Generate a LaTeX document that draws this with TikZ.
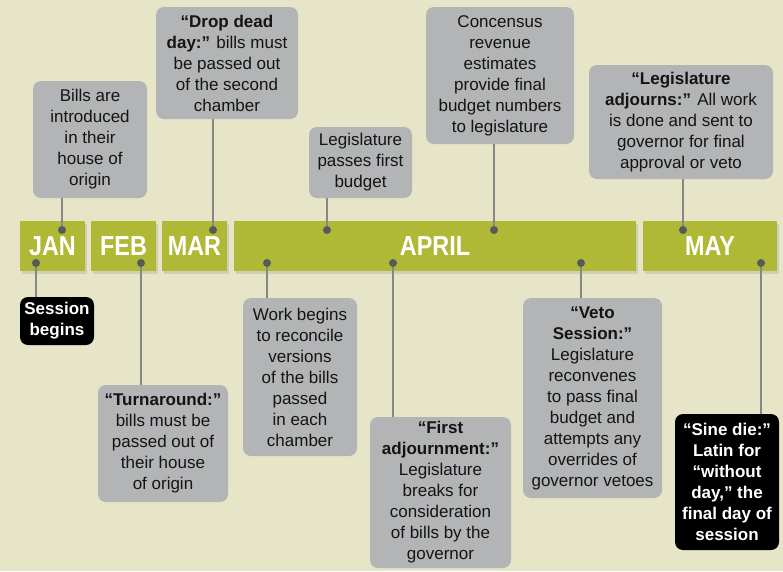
\documentclass[tikz,border=0pt]{standalone}
\usepackage{fontspec}
\setmainfont{Liberation Sans}
\newfontfamily\monthfont[FakeStretch=0.85]{Liberation Sans}
\usetikzlibrary{shadows}
\definecolor{bgc}{RGB}{230,229,200}
\definecolor{barc}{RGB}{175,185,53}
\definecolor{boxc}{RGB}{178,180,182}
\definecolor{dotc}{RGB}{88,89,91}
\definecolor{linec}{RGB}{135,135,135}
\definecolor{txtc}{RGB}{20,20,20}
\begin{document}
\begin{tikzpicture}[x=1pt,y=-1pt,
  bar/.style={fill=barc, draw=none, inner sep=0pt, text=white,
    font=\monthfont\bfseries\fontsize{27.5}{27.5}\selectfont,
    drop shadow={shadow xshift=2pt, shadow yshift=-3pt, opacity=0.22},
    minimum height=50pt},
  graybox/.style={fill=boxc, rounded corners=8pt, align=center, inner sep=0pt,
    text=txtc, font=\fontsize{17}{21}\selectfont},
  blackbox/.style={graybox, fill=black, text=white,
    font=\bfseries\fontsize{17}{21}\selectfont},
  dotmark/.style={circle, fill=dotc, minimum size=8pt, inner sep=0pt},
  conn/.style={draw=linec, line width=2pt}]
\fill[bgc] (0,0) rectangle (783,571);
\useasboundingbox (0,0) rectangle (783,571);

% month bars
\node[bar, minimum width=65pt]  (jan) at (52.5,246) {JAN};
\node[bar, minimum width=65pt]  (feb) at (123.5,246) {FEB};
\node[bar, minimum width=65pt]  (mar) at (194.5,246) {MAR};
\node[bar, minimum width=402pt] (apr) at (435,246) {APRIL};
\node[bar, minimum width=134pt] (may) at (710,246) {MAY};

% boxes above
\node[graybox, minimum width=114pt, minimum height=117pt] (b1) at (90,139.5)
  {Bills are\\introduced\\in their\\house of\\origin};
\node[graybox, minimum width=142pt, minimum height=112pt] (b2) at (227,63)
  {\textbf{“Drop dead}\\\textbf{day:”} bills must\\be passed out\\of the second\\chamber};
\node[graybox, minimum width=103pt, minimum height=71pt] (b3) at (360.5,162.5)
  {Legislature\\passes first\\budget};
\node[graybox, minimum width=148pt, minimum height=137pt] (b4) at (500,75.5)
  {Concensus\\revenue\\estimates\\provide final\\budget numbers\\to legislature};
\node[graybox, minimum width=184pt, minimum height=114pt] (b5) at (681,122)
  {\textbf{“Legislature}\\\textbf{adjourns:”} All work\\is done and sent to\\governor for final\\approval or veto};

% boxes below
\node[blackbox, minimum width=74pt, minimum height=48pt] (b6) at (57,321)
  {Session\\begins};
\node[graybox, minimum width=130pt, minimum height=117pt] (b7) at (163,443.5)
  {\textbf{“Turnaround:”}\\bills must be\\passed out of\\their house\\of origin};
\node[graybox, minimum width=114pt, minimum height=158pt] (b8) at (300,377)
  {Work begins\\to reconcile\\versions\\of the bills\\passed\\in each\\chamber};
\node[graybox, minimum width=141pt, minimum height=151pt] (b9) at (440.5,492.5)
  {\textbf{“First}\\\textbf{adjournment:”}\\Legislature\\breaks for\\consideration\\of bills by the\\governor};
\node[graybox, minimum width=139pt, minimum height=200pt] (b10) at (592.5,398)
  {\textbf{“Veto}\\\textbf{Session:”}\\Legislature\\reconvenes\\to pass final\\budget and\\attempts any\\overrides of\\governor vetoes};
\node[blackbox, minimum width=104pt, minimum height=136pt] (b11) at (727,482)
  {“Sine die:”\\Latin for\\“without\\day,” the\\final day of\\session};

% dot positions
\coordinate (d1) at (62,230);
\coordinate (d2) at (213,230);
\coordinate (d3) at (327,230);
\coordinate (d4) at (494,230);
\coordinate (d5) at (683,230);
\coordinate (d6) at (36,263);
\coordinate (d7) at (141,263);
\coordinate (d8) at (267,263);
\coordinate (d9) at (393,263);
\coordinate (d10) at (581,263);
\coordinate (d11) at (761,263);

% connectors
\draw[conn] (b1.south -| d1) -- (d1);
\draw[conn] (b2.south -| d2) -- (d2);
\draw[conn] (b3.south -| d3) -- (d3);
\draw[conn] (b4.south -| d4) -- (d4);
\draw[conn] (b5.south -| d5) -- (d5);
\draw[conn] (b6.north -| d6) -- (d6);
\draw[conn] (b7.north -| d7) -- (d7);
\draw[conn] (b8.north -| d8) -- (d8);
\draw[conn] (b9.north -| d9) -- (d9);
\draw[conn] (b10.north -| d10) -- (d10);
\draw[conn] (b11.north -| d11) -- (d11);

% dots
\node[dotmark] (m1) at (d1) {};
\node[dotmark] (m2) at (d2) {};
\node[dotmark] (m3) at (d3) {};
\node[dotmark] (m4) at (d4) {};
\node[dotmark] (m5) at (d5) {};
\node[dotmark] (m6) at (d6) {};
\node[dotmark] (m7) at (d7) {};
\node[dotmark] (m8) at (d8) {};
\node[dotmark] (m9) at (d9) {};
\node[dotmark] (m10) at (d10) {};
\node[dotmark] (m11) at (d11) {};
\end{tikzpicture}
\end{document}
